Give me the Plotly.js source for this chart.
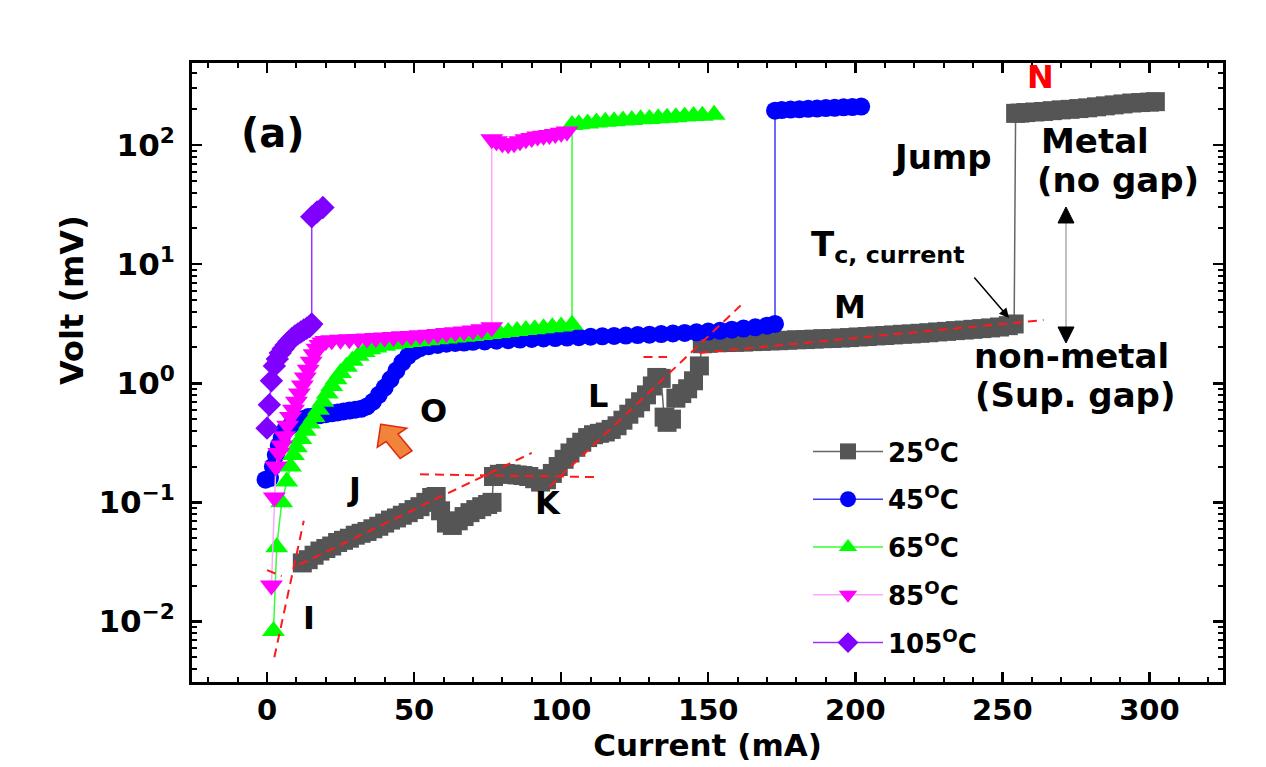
<!DOCTYPE html>
<html><head><meta charset="utf-8">
<script src="https://cdn.plot.ly/plotly-3.0.1.min.js"></script>
<style>html,body{margin:0;padding:0;background:#fff;} #chart{width:1266px;height:767px;}</style>
</head><body><div id="chart"></div>
<script>
// ---------- data ----------
const names = ['25<sup>O</sup>C','45<sup>O</sup>C','65<sup>O</sup>C','85<sup>O</sup>C','105<sup>O</sup>C'];

const cur25 = [12,14,16,18,20,22,24,26,28,30,32,34,36,38,40,42,44,46,48,50,52,54,56,57.5,59,61,63,65,67,69,71,73,75,76.5,77,79,81,83,85,87,89,91,93,95,97,99,101,103,105,107,109,111,113,115,117,119,121,123,125,127,129,131,132.5,134,135,136,137.5,139,141,143,145,147,148,150,153,156,159,162,165,168,171,174,177,180,183,186,189,192,195,198,201,204,207,210,213,216,219,222,225,228,231,234,237,240,243,246,249,252,254,254.5,256,258,261,264,267,270,273,276,279,282,285,288,291,294,297,300,302];
const volt25 = [0.031,0.033,0.036,0.039,0.041,0.043,0.046,0.048,0.05,0.053,0.055,0.057,0.06,0.063,0.067,0.071,0.074,0.078,0.082,0.087,0.092,0.1,0.11,0.112,0.085,0.067,0.064,0.07,0.076,0.082,0.087,0.092,0.096,0.1,0.165,0.172,0.175,0.173,0.17,0.168,0.165,0.158,0.148,0.155,0.175,0.2,0.23,0.26,0.29,0.32,0.35,0.37,0.38,0.39,0.41,0.44,0.49,0.55,0.62,0.7,0.8,0.95,1.12,1.1,0.52,0.47,0.5,0.75,0.82,0.9,1.05,1.4,2.15,2.17,2.19,2.2,2.21,2.22,2.24,2.25,2.27,2.28,2.3,2.32,2.33,2.35,2.37,2.38,2.4,2.42,2.45,2.47,2.5,2.52,2.55,2.58,2.6,2.63,2.66,2.7,2.73,2.77,2.8,2.84,2.88,2.92,2.97,3.05,3.15,185,186,188,190,192,195,198,200,203,206,210,214,218,222,226,228,230,232];

const cur45 = [-0.5,1,2,3,4,5,6,8,10,12,14,16,18,20,22,24,26,28,30,32,34,36,38,40,42,44,46,48,50,52,55,58,61,64,67,70,74,78,82,86,90,94,98,102,106,110,114,118,122,126,130,134,138,142,146,150,154,158,162,166,170,172.7,172.7,175,178,181,184,187,190,193,196,199,202];
const volt45 = [0.155,0.16,0.2,0.25,0.3,0.35,0.4,0.44,0.47,0.5,0.52,0.53,0.54,0.55,0.56,0.57,0.58,0.59,0.6,0.61,0.64,0.7,0.8,0.92,1.08,1.28,1.5,1.7,1.86,1.97,2.05,2.1,2.15,2.18,2.2,2.23,2.25,2.28,2.3,2.33,2.36,2.38,2.4,2.42,2.44,2.46,2.48,2.5,2.52,2.54,2.56,2.59,2.62,2.65,2.68,2.72,2.76,2.82,2.88,2.95,3.05,3.15,195,197,199,200,202,203,205,206,208,209,211];

const cur65 = [2.2,3.3,5,6.7,8,9,10,11.5,13,14.5,16,17.5,19,20.5,22,23.5,25,27,29,31,33,35,37,40,43,46,49,52,55,58,61,64,67,70,73,76,79,82,85,88,91,94,97,100,103.7,103.7,106,109,112,115,118,121,124,127,130,133,136,139,142,145,148,152];
const volt65 = [0.0083,0.042,0.1,0.15,0.2,0.25,0.29,0.34,0.4,0.46,0.52,0.6,0.7,0.82,0.95,1.08,1.22,1.38,1.55,1.7,1.83,1.93,2.0,2.07,2.13,2.18,2.22,2.26,2.3,2.34,2.38,2.42,2.46,2.5,2.55,2.6,2.65,2.7,2.75,2.8,2.85,2.9,2.95,3.0,3.1,148,150,152,155,157,159,161,163,165,166,168,170,172,174,176,177,180];

const cur85 = [1.5,2.5,3,4,5,6,7,8,9,10,11,12,13,14,15,16,17,18,19,20,22,25,28,31,34,37,40,43,46,49,52,55,58,61,64,67,70,73,76.4,76.4,78,80,82,84,86,88,90,92,94,96,98,100,102];
const volt85 = [0.02,0.11,0.2,0.26,0.3,0.36,0.44,0.52,0.6,0.7,0.82,0.96,1.12,1.3,1.52,1.75,1.95,2.1,2.2,2.27,2.3,2.32,2.34,2.36,2.38,2.4,2.42,2.45,2.48,2.5,2.53,2.56,2.6,2.64,2.68,2.72,2.78,2.84,2.95,112,108,104,102,104,108,112,115,118,120,122,124,127,130];

const cur105 = [0,0.8,1.5,2.5,3.5,4.5,5.5,6.5,7.5,8.5,9.5,10.5,11.5,12.5,13.5,14.5,15.2,15.2,17,19];
const volt105 = [0.42,0.66,1.05,1.4,1.6,1.8,1.95,2.1,2.25,2.38,2.5,2.6,2.7,2.8,2.9,3.0,3.15,25,27.5,30];

// red dashed fit lines (end points)
const fitIx = [2.5,12.5],  fitIy = [0.005,0.07];
const fitJx = [11,90],     fitJy = [0.03,0.26];
const fitKx = [52,112],    fitKy = [0.172,0.163];
const fitLx = [96,161],    fitLy = [0.135,4.5];
const fitL2x = [128,136],  fitL2y = [1.66,1.66];
const fitMx = [147,264],   fitMy = [1.8,3.4];
const fit0x = [0,5],       fit0y = [0.027,0.024];

const yTickVals = [0.01,0.1,1,10,100];
const yTickText = ['10<sup>\u22122</sup>','10<sup>\u22121</sup>','10<sup>0</sup>','10<sup>1</sup>','10<sup>2</sup>'];

// ---------- layout helpers ----------
const L=192, R=1223, T=63, B=682;
function px(X){return (X-L)/(R-L);}
function py(Y){return (B-Y)/(B-T);}
const FONT = 'DejaVu Sans';

function series(x,y,name,mcol,lcol,sym,size){
  return {x:x,y:y,name:name,type:'scatter',mode:'lines+markers',legendgroup:name,
    marker:{color:mcol,symbol:sym,size:size,line:{width:0}},
    line:{color:lcol,width:1.5}};
}
function fit(x,y){
  return {x:x,y:y,type:'scatter',mode:'lines',showlegend:false,hoverinfo:'skip',
    line:{color:'#ff1a1a',width:2,dash:'9px,6px'}};
}

const traces = [
  series(cur25,volt25,names[0],'#555555','#666666','square',19),
  series(cur45,volt45,names[1],'#0000ff','#3a3aff','circle',18),
  series(cur65,volt65,names[2],'#00ff00','#33ff33','triangle-up',20),
  series(cur85,volt85,names[3],'#ff00ff','#ffa8ff','triangle-down',20),
  series(cur105,volt105,names[4],'#7f00ff','#9933ff','diamond',18),
  fit(fitIx,fitIy), fit(fitJx,fitJy), fit(fitKx,fitKy), fit(fitLx,fitLy),
  fit(fitL2x,fitL2y), fit(fitMx,fitMy), fit(fit0x,fit0y)
];

// minor ticks for log axis
const yMinor = [];
for (let e=-3;e<=2;e++){ for(let k=2;k<=9;k++){ yMinor.push(k*Math.pow(10,e)); } }

function txt(X,Y,text,size,color,extra){
  return Object.assign({xref:'paper',yref:'paper',x:px(X),y:py(Y),text:text,showarrow:false,
    xanchor:'center',yanchor:'middle',font:{family:FONT,size:size,color:color||'#000',weight:'bold'}},extra||{});
}

const annotations = [
  txt(273,133,'(a)',40),
  txt(433,411,'O',32),
  txt(354,489,'J',32),
  txt(548,503,'K',32),
  txt(598,396,'L',32),
  txt(309,618,'I',32),
  txt(850,307,'M',32),
  txt(1040,77,'N',32,'#ff0000'),
  txt(942,157,'Jump',34),
  txt(1095,141,'Metal',34),
  txt(1118,180,'(no gap)',34),
  txt(809,246,'T<sub>c, current</sub>',34,'#000',{xanchor:'left'}),
  txt(1071,356,'non-metal',34),
  txt(1075,395,'(Sup. gap)',34),
  txt(72,300,'Volt (mV)',32,'#000',{textangle:-90}),
  {xref:'paper',yref:'paper',x:px(1009),y:py(318),ax:-36,ay:-42,text:'',showarrow:true,
   arrowhead:2,arrowsize:1.3,arrowwidth:1.5,arrowcolor:'#000'}
];

function P(X,Y){return px(X).toFixed(5)+','+py(Y).toFixed(5);}
const arrowPath = 'M'+P(380.7,424.3)+' L'+P(406.7,428.3)+' L'+P(397.9,434.0)+' L'+P(412,450.9)+
  ' L'+P(400.2,458.5)+' L'+P(386.1,441.6)+' L'+P(377.3,447.3)+' Z';

const shapes = [
  {type:'path',xref:'paper',yref:'paper',path:arrowPath,fillcolor:'#f0843a',line:{color:'#e02a10',width:1.5}},
  {type:'line',xref:'paper',yref:'paper',x0:px(1066),x1:px(1066),y0:py(220),y1:py(330),line:{color:'#c0c0c0',width:2}},
  {type:'path',xref:'paper',yref:'paper',path:'M'+P(1066,207)+' L'+P(1058,223)+' L'+P(1074,223)+' Z',fillcolor:'#000',line:{color:'#000',width:1}},
  {type:'path',xref:'paper',yref:'paper',path:'M'+P(1066,343)+' L'+P(1058,327)+' L'+P(1074,327)+' Z',fillcolor:'#000',line:{color:'#000',width:1}}
];

const layout = {
  width:1266,height:767,
  margin:{l:L,r:1266-R,t:T,b:767-B,pad:0},
  paper_bgcolor:'#ffffff',plot_bgcolor:'#ffffff',
  font:{family:FONT,color:'#000'},
  showlegend:true,
  legend:{x:px(808),y:py(428),xanchor:'left',yanchor:'top',bgcolor:'rgba(0,0,0,0)',
    font:{family:FONT,size:26,weight:'bold',color:'#000'},tracegroupgap:11,itemwidth:70},
  xaxis:{range:[-25.5,325],tickmode:'linear',tick0:0,dtick:50,ticks:'inside',ticklen:10,tickwidth:2.5,tickcolor:'#000',
    showline:true,linewidth:3,linecolor:'#000',mirror:'ticks',showgrid:false,zeroline:false,
    tickfont:{family:FONT,size:29,weight:'bold'},ticklabelstandoff:0,
    minor:{tickmode:'linear',tick0:0,dtick:10,ticks:'inside',ticklen:5,tickwidth:2,tickcolor:'#000',showgrid:false},
    title:{text:'Current (mA)',font:{family:FONT,size:31,weight:'bold'},standoff:2}},
  yaxis:{type:'log',range:[Math.log10(0.0031),Math.log10(490)],tickmode:'array',tickvals:yTickVals,ticktext:yTickText,
    ticks:'inside',ticklen:10,tickwidth:2.5,tickcolor:'#000',
    showline:true,linewidth:3,linecolor:'#000',mirror:'ticks',showgrid:false,zeroline:false,
    tickfont:{family:FONT,size:31,weight:'bold'},ticklabelstandoff:8,
    minor:{tickmode:'array',tickvals:yMinor,ticks:'inside',ticklen:5,tickwidth:2,tickcolor:'#000',showgrid:false}},
  annotations:annotations,
  shapes:shapes
};

Plotly.newPlot('chart',traces,layout,{displayModeBar:false,staticPlot:true});
</script>
</body></html>
